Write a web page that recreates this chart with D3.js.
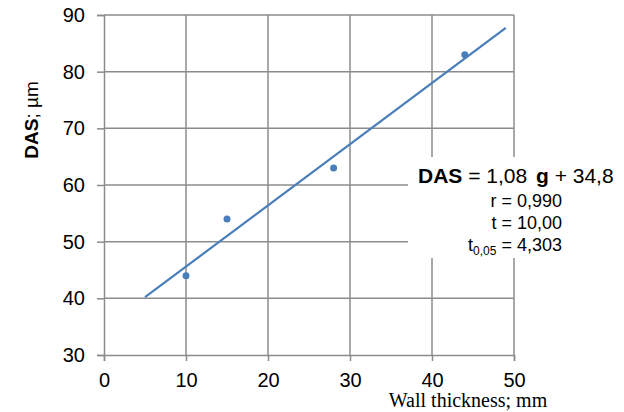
<!DOCTYPE html>
<html>
<head>
<meta charset="utf-8">
<script src="https://cdn.jsdelivr.net/npm/d3@7"></script>
<style>
  body { margin: 0; background: #fff; }
  svg { display: block; font-family: Arial, "Liberation Sans", sans-serif; }
</style>
</head>
<body>
<svg id="chart" width="624" height="412"></svg>
<script>
// measured points: wall thickness (mm) vs DAS (µm)
var thickness = [10, 15, 28, 44];
var das = [44, 54, 63, 83];
var xTicks = [0, 10, 20, 30, 40, 50];
var yTicks = [30, 40, 50, 60, 70, 80, 90];
// fitted line DAS = 1.08 g + 34.8, drawn from g=5 to g=49
var fitRange = [5, 49];
var slope = 1.08, intercept = 34.8;

var svg = d3.select('#chart');
var x = d3.scaleLinear().domain([0, 50]).range([104, 514]);
var y = d3.scaleLinear().domain([30, 90]).range([355, 15]);
var grid = '#8c8c8c';

// grid
var g = svg.append('g');
g.selectAll('line.h').data(yTicks.slice(1)).enter().append('line')
  .attr('x1', x(0)).attr('x2', x(50))
  .attr('y1', function(d){ return y(d); }).attr('y2', function(d){ return y(d); })
  .attr('stroke', grid).attr('stroke-width', 1.5);
g.selectAll('line.v').data(xTicks.slice(1)).enter().append('line')
  .attr('x1', function(d){ return x(d); }).attr('x2', function(d){ return x(d); })
  .attr('y1', y(90)).attr('y2', y(30))
  .attr('stroke', grid).attr('stroke-width', 1.5);

// axes
var yAxis = svg.append('g').attr('transform', 'translate(' + x(0) + ',0)')
  .call(d3.axisLeft(y).tickValues(yTicks).tickSize(7).tickPadding(12).tickFormat(d3.format('d')));
var xAxis = svg.append('g').attr('transform', 'translate(0,' + y(30) + ')')
  .call(d3.axisBottom(x).tickValues(xTicks).tickSize(6).tickPadding(12).tickFormat(d3.format('d')));
[yAxis, xAxis].forEach(function(a){
  a.select('.domain').attr('stroke', grid).attr('stroke-width', 1.5);
  a.selectAll('.tick line').attr('stroke', grid).attr('stroke-width', 1.5);
  a.selectAll('.tick text').attr('fill', '#000').style('font-size', '20px')
    .style('font-family', 'Arial, "Liberation Sans", sans-serif');
});

// white box behind the equation
svg.append('rect').attr('x', 408).attr('y', 157).attr('width', 216).attr('height', 101).attr('fill', '#fff');

// fit line
var blue = '#4a7ebb';
svg.append('line')
  .attr('x1', x(fitRange[0])).attr('y1', y(slope * fitRange[0] + intercept))
  .attr('x2', x(fitRange[1])).attr('y2', y(slope * fitRange[1] + intercept))
  .attr('stroke', blue).attr('stroke-width', 2.2);

// points
svg.selectAll('circle').data(thickness).enter().append('circle')
  .attr('cx', function(d){ return x(d); })
  .attr('cy', function(d, i){ return y(das[i]); })
  .attr('r', 3.5).attr('fill', blue);

// equation text
var eq = svg.append('text').attr('x', 418).attr('y', 183).style('font-size', '21px');
eq.append('tspan').attr('font-weight', 'bold').text('DAS');
eq.append('tspan').text(' = 1,08 ');
eq.append('tspan').attr('font-weight', 'bold').attr('dx', 3).text('g');
eq.append('tspan').text(' + 34,8');

var stats = ['r = 0,990', 't = 10,00'];
svg.selectAll('text.stat').data(stats).enter().append('text')
  .attr('class', 'stat').attr('x', 562).attr('y', function(d, i){ return 207 + i * 22; })
  .attr('text-anchor', 'end').style('font-size', '18px').text(function(d){ return d; });
var t05 = svg.append('text').attr('x', 562).attr('y', 251).attr('text-anchor', 'end').style('font-size', '18px');
t05.append('tspan').text('t');
t05.append('tspan').attr('dy', 4).style('font-size', '12px').text('0,05');
t05.append('tspan').attr('dy', -4).text(' = 4,303');

// axis titles
var yt = svg.append('text').attr('transform', 'translate(38,120) rotate(-90)')
  .attr('text-anchor', 'middle').style('font-size', '19px');
yt.append('tspan').attr('font-weight', 'bold').text('DAS');
yt.append('tspan').text('; µm');

svg.append('text').attr('x', 468).attr('y', 407).attr('text-anchor', 'middle')
  .style('font-family', '"Liberation Serif", "Times New Roman", serif').style('font-size', '20px')
  .text('Wall thickness; mm');
</script>
</body>
</html>
